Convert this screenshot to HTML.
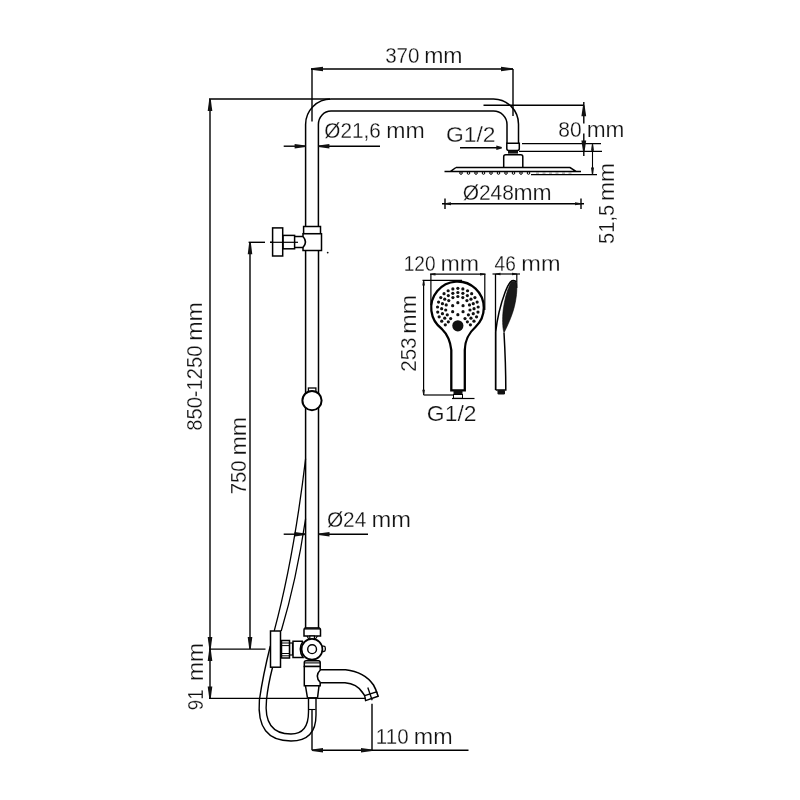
<!DOCTYPE html>
<html><head><meta charset="utf-8"><style>
html,body{margin:0;padding:0;background:#fff;width:800px;height:800px;overflow:hidden}
svg{display:block;filter:grayscale(1)}
text{font-family:"Liberation Sans",sans-serif;fill:#111;stroke:#fff;stroke-width:0.25px}
.f{fill:#111;stroke:none}
</style></head><body>
<svg width="800" height="800" viewBox="0 0 800 800" stroke="#000" fill="none">
<line x1="311" y1="69" x2="513" y2="69" stroke-width="1.4"/>
<polygon points="311.00,68.25 311.00,69.75 323.00,71.20 323.00,66.80" class="f"/>
<polygon points="513.00,68.25 513.00,69.75 501.00,71.20 501.00,66.80" class="f"/>
<line x1="312" y1="69" x2="312" y2="121.5" stroke-width="1.4"/>
<line x1="513" y1="69" x2="513" y2="116" stroke-width="1.4"/>
<text transform="translate(385.18,63.38) scale(0.9448,1)" font-size="21.8">370</text>
<text transform="translate(424.13,63.38) scale(1.0407,1)" font-size="22.2">mm</text>
<line x1="209" y1="99" x2="330" y2="99" stroke-width="1.4"/>
<line x1="483.5" y1="105.3" x2="584" y2="105.3" stroke-width="1.4"/>
<path d="M305.6,226.5 V124.5 A25.4,25.5 0 0 1 331,99 H493.5 A25,25.2 0 0 1 518.5,124.2 V143" stroke-width="1.5" fill="none"/>
<path d="M318.4,226.5 V124.5 A12.6,13.5 0 0 1 331,111 H493.5 A13.5,13.5 0 0 1 507,124.5 V143" stroke-width="1.5" fill="none"/>
<line x1="283.7" y1="146.2" x2="306" y2="146.2" stroke-width="1.4"/>
<polygon points="305.60,145.45 305.60,146.95 294.60,148.40 294.60,144.00" class="f"/>
<line x1="318.4" y1="146.2" x2="380" y2="146.2" stroke-width="1.4"/>
<polygon points="318.40,145.45 318.40,146.95 329.40,148.40 329.40,144.00" class="f"/>
<text transform="translate(324.37,137.78) scale(0.9487,1)" font-size="21.8">Ø21,6</text>
<text transform="translate(386.23,137.78) scale(1.0407,1)" font-size="22.2">mm</text>
<path d="M506.8,143.3 H519.3 V148.6 Q519.3,150.6 517.3,150.6 H508.8 Q506.8,150.6 506.8,148.6 Z" stroke-width="1.5" fill="#fff"/>
<rect x="508" y="150.6" width="10" height="3" class="f"/>
<path d="M503.7,167.3 V156.7 Q503.7,154.7 505.7,154.7 H520.8 Q522.8,154.7 522.8,156.7 V167.3" stroke-width="1.5" fill="#fff"/>
<path d="M456,167.5 H570 L576,171.4 M444.5,171.4 H581 M456,167.5 L450.5,171.4" stroke-width="1.5" fill="none"/>
<circle cx="461.0" cy="173" r="1.3" fill="none" stroke-width="1"/>
<circle cx="468.5" cy="173" r="1.3" fill="none" stroke-width="1"/>
<circle cx="476.0" cy="173" r="1.3" fill="none" stroke-width="1"/>
<circle cx="483.5" cy="173" r="1.3" fill="none" stroke-width="1"/>
<circle cx="491.0" cy="173" r="1.3" fill="none" stroke-width="1"/>
<circle cx="498.5" cy="173" r="1.3" fill="none" stroke-width="1"/>
<circle cx="506.0" cy="173" r="1.3" fill="none" stroke-width="1"/>
<circle cx="513.5" cy="173" r="1.3" fill="none" stroke-width="1"/>
<circle cx="521.0" cy="173" r="1.3" fill="none" stroke-width="1"/>
<circle cx="528.5" cy="173" r="1.3" fill="none" stroke-width="1"/>
<line x1="536.0" y1="173" x2="539.0" y2="173" stroke-width="1" stroke="#777"/>
<line x1="542.5" y1="173" x2="545.5" y2="173" stroke-width="1" stroke="#777"/>
<line x1="549.0" y1="173" x2="552.0" y2="173" stroke-width="1" stroke="#777"/>
<line x1="555.5" y1="173" x2="558.5" y2="173" stroke-width="1" stroke="#777"/>
<line x1="562.0" y1="173" x2="565.0" y2="173" stroke-width="1" stroke="#777"/>
<line x1="568.5" y1="173" x2="571.5" y2="173" stroke-width="1" stroke="#777"/>
<line x1="460" y1="147.8" x2="498" y2="147.8" stroke-width="1.4"/>
<polygon points="501.80,147.00 501.80,148.60 496.30,150.05 496.30,145.55" class="f"/>
<text transform="translate(445.96,142.28) scale(1.0482,1)" font-size="21.8">G1/2</text>
<line x1="522" y1="143.6" x2="601" y2="143.6" stroke-width="1.4"/>
<line x1="519" y1="151.4" x2="602" y2="151.4" stroke-width="1.4"/>
<line x1="531" y1="174.6" x2="597" y2="174.6" stroke-width="1.4"/>
<line x1="583.8" y1="102" x2="583.8" y2="123.5" stroke-width="1.4"/>
<line x1="583.8" y1="133.5" x2="583.8" y2="156" stroke-width="1.4"/>
<polygon points="583.05,105.30 584.55,105.30 586.20,116.30 581.40,116.30" class="f"/>
<polygon points="583.05,151.60 584.55,151.60 586.20,140.60 581.40,140.60" class="f"/>
<text transform="translate(558.36,137.28) scale(0.9620,1)" font-size="21.8">80</text>
<text transform="translate(586.71,137.28) scale(1.0216,1)" font-size="22.2">mm</text>
<line x1="592.5" y1="143.6" x2="592.5" y2="174.6" stroke-width="1.1"/>
<polygon points="591.98,143.80 593.02,143.80 594.00,150.80 591.00,150.80" class="f"/>
<polygon points="591.98,174.50 593.02,174.50 594.00,167.50 591.00,167.50" class="f"/>
<text transform="translate(613.78,201.01) rotate(-90) scale(1.0334,1)" font-size="22.2">mm</text>
<text transform="translate(613.78,243.90) rotate(-90) scale(0.9224,1)" font-size="21.8">51,5</text>
<line x1="442" y1="203.7" x2="584" y2="203.7" stroke-width="1.4"/>
<line x1="445" y1="198.5" x2="445" y2="209" stroke-width="1.4"/>
<line x1="581" y1="198.5" x2="581" y2="209" stroke-width="1.4"/>
<polygon points="445.00,203.17 445.00,204.22 451.00,205.20 451.00,202.20" class="f"/>
<polygon points="581.00,203.17 581.00,204.22 575.00,205.20 575.00,202.20" class="f"/>
<text transform="translate(462.66,200.08) scale(0.9602,1)" font-size="21.8">Ø248</text>
<text transform="translate(513.39,200.08) scale(1.0334,1)" font-size="22.2">mm</text>
<line x1="210" y1="99" x2="210" y2="698.5" stroke-width="1.4"/>
<polygon points="209.25,99.00 210.75,99.00 212.30,111.00 207.70,111.00" class="f"/>
<polygon points="209.25,649.00 210.75,649.00 212.30,637.00 207.70,637.00" class="f"/>
<polygon points="209.25,649.00 210.75,649.00 212.30,661.00 207.70,661.00" class="f"/>
<polygon points="209.25,698.50 210.75,698.50 212.30,686.50 207.70,686.50" class="f"/>
<text transform="translate(202.38,340.82) rotate(-90) scale(1.0437,1)" font-size="22.2">mm</text>
<text transform="translate(202.38,430.81) rotate(-90) scale(0.9263,1)" font-size="21.8">850-1250</text>
<text transform="translate(202.78,681.01) rotate(-90) scale(1.0334,1)" font-size="22.2">mm</text>
<text transform="translate(202.78,710.13) rotate(-90) scale(0.8493,1)" font-size="21.8">91</text>
<line x1="209" y1="649.1" x2="265.5" y2="649.1" stroke-width="1.4"/>
<line x1="209" y1="698.4" x2="365" y2="698.4" stroke-width="1.4"/>
<line x1="250" y1="242.3" x2="250" y2="649" stroke-width="1.4"/>
<polygon points="249.25,242.30 250.75,242.30 252.30,254.30 247.70,254.30" class="f"/>
<polygon points="249.25,649.00 250.75,649.00 252.30,637.00 247.70,637.00" class="f"/>
<line x1="248.6" y1="242.3" x2="265" y2="242.3" stroke-width="1.4"/>
<line x1="270" y1="242.3" x2="298" y2="242.3" stroke-width="1.4"/>
<text transform="translate(245.53,455.52) rotate(-90) scale(1.0452,1)" font-size="22.2">mm</text>
<text transform="translate(245.53,494.21) rotate(-90) scale(0.9290,1)" font-size="21.8">750</text>
<line x1="305.6" y1="226.5" x2="305.6" y2="628" stroke-width="1.5"/>
<line x1="318.5" y1="226.5" x2="318.5" y2="628" stroke-width="1.5"/>
<rect x="303.6" y="226.5" width="16.9" height="7.2" fill="#fff" stroke-width="1.5"/>
<rect x="294.6" y="236.4" width="9" height="11" fill="#fff" stroke="none"/>
<path d="M294.6,236.4 H304 M294.6,247.4 H304" stroke-width="1.5" fill="none"/>
<path d="M303,233.7 H321.5 V250.6 H303 V247.4 Q308,241.9 303,236.4 Z" stroke-width="1.5" fill="#fff"/>
<rect x="283" y="235.4" width="11.6" height="13.4" fill="#fff" stroke-width="1.5"/>
<rect x="272.6" y="227.9" width="10.1" height="28.1" fill="#fff" stroke-width="1.5"/>
<line x1="270" y1="242.3" x2="298" y2="242.3" stroke-width="1.2"/>
<circle cx="327.7" cy="252.6" r="0.9" class="f"/>
<rect x="308.4" y="388" width="7.5" height="4" fill="#fff" stroke-width="1.3"/>
<circle cx="312" cy="400.6" r="9.6" fill="#fff" stroke-width="2"/>
<line x1="283.7" y1="534.2" x2="305.6" y2="534.2" stroke-width="1.4"/>
<polygon points="305.60,533.45 305.60,534.95 294.60,536.40 294.60,532.00" class="f"/>
<line x1="318.5" y1="534.2" x2="368" y2="534.2" stroke-width="1.4"/>
<polygon points="318.50,533.45 318.50,534.95 329.50,536.40 329.50,532.00" class="f"/>
<text transform="translate(326.92,527.28) scale(0.9540,1)" font-size="21.8">Ø24</text>
<text transform="translate(371.44,527.28) scale(1.0687,1)" font-size="22.2">mm</text>
<path d="M305.6,458.75 Q293.6,559 274.2,631" stroke-width="1.3" fill="none"/>
<path d="M305.6,518.75 Q296.3,580.7 281.2,631" stroke-width="1.3" fill="none"/>
<path d="M304,636 V630 Q304,628 306,628 H318.5 Q320.5,628 320.5,630 V636 Z" stroke-width="1.5" fill="#fff"/>
<rect x="304.5" y="627.6" width="15.5" height="2" class="f"/>
<path d="M307,636 L309,639.5 M317.5,636 L315,639.5" stroke-width="1.2" fill="none"/>
<rect x="309.8" y="636" width="4.6" height="3.5" fill="#fff" stroke-width="1.2"/>
<path d="M303,641.2 H293 V657.4 H303 Q297.5,649.3 303,641.2" stroke-width="1.5" fill="#fff"/>
<rect x="289.5" y="643" width="3" height="12" fill="#fff" stroke-width="1.2"/>
<rect x="281.5" y="640.5" width="8" height="17.5" fill="#fff" stroke-width="1.5"/>
<line x1="281.5" y1="643" x2="289.5" y2="643" stroke-width="1.0"/>
<line x1="281.5" y1="645.6" x2="289.5" y2="645.6" stroke-width="1.0"/>
<line x1="281.5" y1="653.5" x2="289.5" y2="653.5" stroke-width="1.0"/>
<line x1="281.5" y1="655.8" x2="289.5" y2="655.8" stroke-width="1.0"/>
<path d="M321,646.2 H323.6 Q325.3,646.2 325.3,648 V649.8 Q325.3,651.5 323.6,651.5 H321" stroke-width="1.3" fill="#fff"/>
<circle cx="312" cy="649.2" r="10.4" fill="#fff" stroke-width="1.7"/>
<circle cx="312.1" cy="649.2" r="4.4" fill="none" stroke-width="1.4"/>
<rect x="270.5" y="631" width="10" height="36.2" fill="#fff" stroke-width="1.5"/>
<path d="M304.3,666.5 V662.6 Q304.3,660.8 306.1,660.8 H318.4 Q320.2,660.8 320.2,662.6 V666.5 Z" stroke-width="1.5" fill="#fff"/>
<line x1="304.3" y1="662.9" x2="320.2" y2="662.9" stroke-width="1.1"/>
<rect x="304.3" y="666.5" width="16" height="19.3" fill="#fff" stroke="none"/>
<path d="M320.2,669.7 V666.5 H304.3 V685.8 H320.2 V682.8" stroke-width="1.5" fill="none"/>
<path d="M305.5,686 L307.5,698 H317.5 L319,686" stroke-width="1.5" fill="none"/>
<rect x="307" y="697" width="11" height="2" class="f"/>
<path d="M320,669.7 H345.6 C358,671 368,677 373.5,685 C376,689 377,693 377.8,696" stroke-width="1.6" fill="#fff"/>
<path d="M320,682.8 H345 C353,683.5 359,687 362.5,692.5 L364.7,695.6" stroke-width="1.6" fill="none"/>
<path d="M320.5,669.7 Q314,676.2 320.5,682.8" stroke-width="1.5" fill="#fff"/>
<path d="M364.7,695.6 L376.6,691.9 L378.1,696.25 L365.6,700.6 Z" stroke-width="1.5" fill="#fff"/>
<line x1="367.8" y1="687.5" x2="372.2" y2="700.3" stroke-width="1.3"/>
<path d="M270.3,646 Q263,675 259.4,700 Q256,741 291,741 Q316,741 316,715 V698" stroke-width="1.4" fill="none"/>
<path d="M272.5,667.5 Q268,685 266.5,700 Q263,734 291,734 Q308.5,734 308.5,712 V698" stroke-width="1.4" fill="none"/>
<line x1="309" y1="709.5" x2="315.5" y2="709.5" stroke-width="1.1"/>
<line x1="312" y1="709.5" x2="312" y2="750.3" stroke-width="1.4"/>
<line x1="372" y1="703.7" x2="372" y2="750.3" stroke-width="1.4"/>
<line x1="312" y1="750.3" x2="468.5" y2="750.3" stroke-width="1.4"/>
<polygon points="312.00,749.55 312.00,751.05 323.00,752.50 323.00,748.10" class="f"/>
<polygon points="372.00,749.55 372.00,751.05 361.00,752.50 361.00,748.10" class="f"/>
<text transform="translate(375.86,744.18) scale(0.9424,1)" font-size="21.8">110</text>
<text transform="translate(413.77,744.18) scale(1.0511,1)" font-size="22.2">mm</text>
<line x1="430" y1="274.2" x2="485.6" y2="274.2" stroke-width="1.2"/>
<polygon points="430.50,273.75 430.50,274.65 435.50,275.50 435.50,272.90" class="f"/>
<polygon points="485.00,273.75 485.00,274.65 480.00,275.50 480.00,272.90" class="f"/>
<line x1="430.9" y1="274.2" x2="430.9" y2="305" stroke-width="1.2"/>
<line x1="484.8" y1="274.2" x2="484.8" y2="310" stroke-width="1.2"/>
<text transform="translate(403.78,271.28) scale(0.8730,1)" font-size="21.8">120</text>
<text transform="translate(440.48,271.28) scale(1.0422,1)" font-size="22.2">mm</text>
<line x1="423.6" y1="280.4" x2="423.6" y2="395" stroke-width="1.2"/>
<line x1="423.6" y1="395" x2="453.5" y2="395" stroke-width="1.2"/>
<polygon points="423.15,280.60 424.06,280.60 424.90,285.60 422.30,285.60" class="f"/>
<polygon points="423.15,394.80 424.06,394.80 424.90,389.80 422.30,389.80" class="f"/>
<text transform="translate(416.03,333.63) rotate(-90) scale(1.0481,1)" font-size="22.2">mm</text>
<text transform="translate(416.03,371.83) rotate(-90) scale(0.9466,1)" font-size="21.8">253</text>
<path d="M441.9,329 A26.3,26.3 0 1 1 475.5,327 C470,332 465,338 464.8,350 V390.3 H451.3 V350 C450,338 446,333 441.9,329 Z" stroke-width="2.3" fill="#fff"/>
<circle cx="457.85" cy="302.70" r="1.6" class="f"/>
<circle cx="463.05" cy="305.70" r="1.6" class="f"/>
<circle cx="463.05" cy="311.70" r="1.6" class="f"/>
<circle cx="457.85" cy="314.70" r="1.6" class="f"/>
<circle cx="452.65" cy="311.70" r="1.6" class="f"/>
<circle cx="452.65" cy="305.70" r="1.6" class="f"/>
<circle cx="450.68" cy="318.57" r="1.6" class="f"/>
<circle cx="447.28" cy="314.80" r="1.6" class="f"/>
<circle cx="445.72" cy="309.98" r="1.6" class="f"/>
<circle cx="446.25" cy="304.93" r="1.6" class="f"/>
<circle cx="448.78" cy="300.54" r="1.6" class="f"/>
<circle cx="452.89" cy="297.55" r="1.6" class="f"/>
<circle cx="457.85" cy="296.50" r="1.6" class="f"/>
<circle cx="462.81" cy="297.55" r="1.6" class="f"/>
<circle cx="466.92" cy="300.54" r="1.6" class="f"/>
<circle cx="469.45" cy="304.93" r="1.6" class="f"/>
<circle cx="469.98" cy="309.98" r="1.6" class="f"/>
<circle cx="468.42" cy="314.80" r="1.6" class="f"/>
<circle cx="465.02" cy="318.57" r="1.6" class="f"/>
<circle cx="448.33" cy="321.81" r="1.6" class="f"/>
<circle cx="444.74" cy="318.22" r="1.6" class="f"/>
<circle cx="442.44" cy="313.71" r="1.6" class="f"/>
<circle cx="441.65" cy="308.70" r="1.6" class="f"/>
<circle cx="442.44" cy="303.69" r="1.6" class="f"/>
<circle cx="444.74" cy="299.18" r="1.6" class="f"/>
<circle cx="448.33" cy="295.59" r="1.6" class="f"/>
<circle cx="452.84" cy="293.29" r="1.6" class="f"/>
<circle cx="457.85" cy="292.50" r="1.6" class="f"/>
<circle cx="462.86" cy="293.29" r="1.6" class="f"/>
<circle cx="467.37" cy="295.59" r="1.6" class="f"/>
<circle cx="470.96" cy="299.18" r="1.6" class="f"/>
<circle cx="473.26" cy="303.69" r="1.6" class="f"/>
<circle cx="474.05" cy="308.70" r="1.6" class="f"/>
<circle cx="473.26" cy="313.71" r="1.6" class="f"/>
<circle cx="470.96" cy="318.22" r="1.6" class="f"/>
<circle cx="467.37" cy="321.81" r="1.6" class="f"/>
<circle cx="445.29" cy="324.78" r="1.6" class="f"/>
<circle cx="441.73" cy="321.20" r="1.6" class="f"/>
<circle cx="439.16" cy="316.87" r="1.6" class="f"/>
<circle cx="437.72" cy="312.03" r="1.6" class="f"/>
<circle cx="437.52" cy="306.99" r="1.6" class="f"/>
<circle cx="438.56" cy="302.06" r="1.6" class="f"/>
<circle cx="440.78" cy="297.53" r="1.6" class="f"/>
<circle cx="444.04" cy="293.68" r="1.6" class="f"/>
<circle cx="448.15" cy="290.76" r="1.6" class="f"/>
<circle cx="452.85" cy="288.92" r="1.6" class="f"/>
<circle cx="457.85" cy="288.30" r="1.6" class="f"/>
<circle cx="462.85" cy="288.92" r="1.6" class="f"/>
<circle cx="467.55" cy="290.76" r="1.6" class="f"/>
<circle cx="471.66" cy="293.68" r="1.6" class="f"/>
<circle cx="474.92" cy="297.53" r="1.6" class="f"/>
<circle cx="477.14" cy="302.06" r="1.6" class="f"/>
<circle cx="478.18" cy="306.99" r="1.6" class="f"/>
<circle cx="477.98" cy="312.03" r="1.6" class="f"/>
<circle cx="476.54" cy="316.87" r="1.6" class="f"/>
<circle cx="473.97" cy="321.20" r="1.6" class="f"/>
<circle cx="470.41" cy="324.78" r="1.6" class="f"/>
<circle cx="457.85" cy="325.8" r="5.6" class="f"/>
<line x1="422.5" y1="280.4" x2="462" y2="280.4" stroke-width="1.2"/>
<rect x="453.5" y="390.3" width="9" height="4.2" class="f"/>
<rect x="453.5" y="394.5" width="9" height="3.8" fill="#fff" stroke-width="1"/>
<line x1="452" y1="398.5" x2="474.5" y2="398.5" stroke-width="1.2"/>
<text transform="translate(426.85,420.78) scale(1.0526,1)" font-size="21.8">G1/2</text>
<line x1="492.5" y1="274" x2="520" y2="274" stroke-width="1.2"/>
<polygon points="495.50,273.55 495.50,274.45 500.50,275.30 500.50,272.70" class="f"/>
<polygon points="517.00,273.55 517.00,274.45 512.00,275.30 512.00,272.70" class="f"/>
<line x1="495.5" y1="274" x2="495.5" y2="390" stroke-width="1.3"/>
<line x1="516.8" y1="274" x2="516.8" y2="288" stroke-width="1.2"/>
<text transform="translate(494.62,271.28) scale(0.8737,1)" font-size="21.8">46</text>
<text transform="translate(521.35,271.28) scale(1.0599,1)" font-size="22.2">mm</text>
<path d="M495.7,390 V332 C497,320 500,306 505,292.5 C507,287 509,282.5 512,280.7 C514,280.3 515.6,280.8 516.3,282" stroke-width="1.5" fill="none"/>
<path d="M511,282.4 C513,280.8 515.8,280.8 516.6,284 C517.6,292 515.3,305 512.3,313.5 C510,320 507,327 504,332.7 C502.4,328 502.3,318 503.2,310 C504.5,300 507,290 511,282.4 Z" stroke-width="0.6" fill="#1a1a1a"/>
<path d="M504,332.7 C505,350 505.8,370 505.8,390 H495.7" stroke-width="1.5" fill="none"/>
<rect x="497.5" y="390" width="7.5" height="4.5" rx="1.2" class="f"/>
</svg></body></html>
